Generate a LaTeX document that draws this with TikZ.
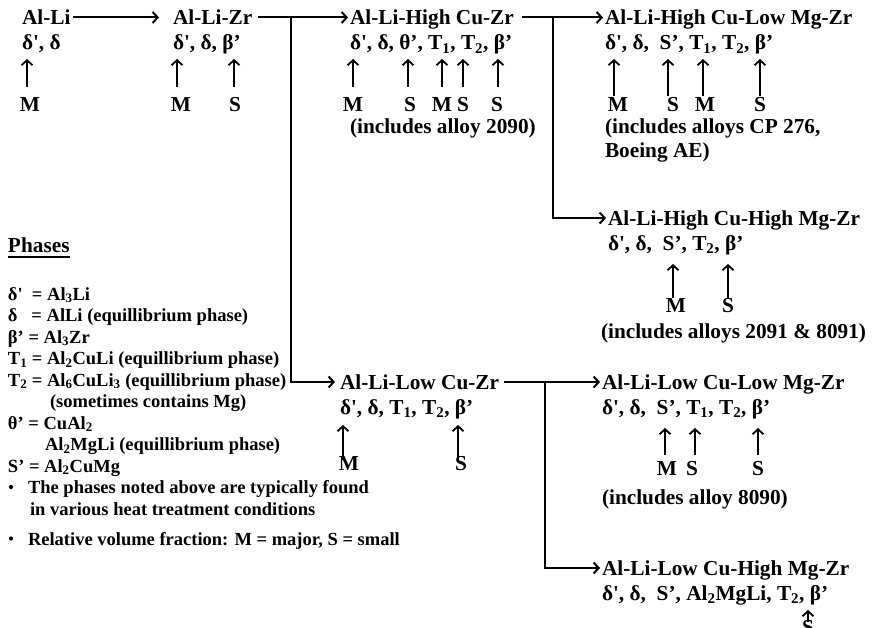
\documentclass[tikz,border=0pt]{standalone}
\usepackage{fontspec}
\setmainfont{Liberation Serif}[Ligatures=TeXOff]
\usetikzlibrary{arrows.meta}

% abundance marker: label node plus an upward arrow to the phase symbol
% #1 name, #2 label x, #3 label baseline, #4 letter, #5 arrow x offset, #6 gap above label, #7 arrow length
\newcommand\abund[7]{%
  \node[lbl] (#1) at (#2,#3) {#4};
  \draw[uparr] ([xshift=#5pt,yshift=#6pt]#1.north) -- ++(0,-#7);}

\begin{document}
\begin{tikzpicture}[x=1pt,y=-1pt,
  every node/.style={inner sep=0pt, outer sep=0pt, font=\fontsize{21.3}{24}\bfseries\selectfont},
  ttl/.style={anchor=base west, text height=15pt, text depth=0pt},
  phl/.style={anchor=base west},
  lbl/.style={anchor=base, text height=14pt, text depth=0pt},
  leg/.style={anchor=base west, font=\fontsize{18.5}{22}\bfseries\selectfont},
  bul/.style={circle, fill=black, minimum size=4.2pt},
  conn/.style={line width=2pt},
  arr/.style={line width=2pt, -{Straight Barb[length=5pt,width=11pt]}},
  uparr/.style={line width=1.8pt, -{Straight Barb[length=5pt,width=11pt]}},
]
\useasboundingbox (0,0) rectangle (877,628);

% ---- Al-Li
\node[ttl] (alli) at (22,25) {Al-Li};
\node[phl] (alliph) at (22,50) {δ', δ};
\abund{alliM}{30}{112}{M}{-3}{11}{28}

% ---- Al-Li-Zr
\node[ttl] (zr) at (173,25) {Al-Li-Zr};
\node[phl] (zrph) at (173,50) {δ', δ, β’};
\abund{zrM}{181}{112}{M}{-4}{11}{28}
\abund{zrS}{235}{112}{S}{-1}{11}{28}

% ---- Al-Li-High Cu-Zr
\node[ttl] (hcu) at (350,25) {Al-Li-High Cu-Zr};
\node[phl] (hcuph) at (350,50) {δ', δ, θ’, T\textsubscript{1}, T\textsubscript{2}, β’};
\abund{hcuA}{353}{112}{M}{0}{11}{28}
\abund{hcuB}{410}{112}{S}{-2}{11}{28}
\abund{hcuC}{442}{112}{M}{0}{11}{28}
\abund{hcuD}{463}{112}{S}{0}{11}{28}
\abund{hcuE}{497}{112}{S}{1}{11}{28}
\node[phl] (hcuinc) at (350,134) {(includes alloy 2090)};

% ---- Al-Li-High Cu-Low Mg-Zr
\node[ttl] (hclm) at (605,25) {Al-Li-High Cu-Low Mg-Zr};
\node[phl] (hclmph) at (605,50) {δ', δ, \ S’, T\textsubscript{1}, T\textsubscript{2}, β’};
\abund{hclmA}{618}{112}{M}{-4}{2}{37}
\abund{hclmB}{673}{112}{S}{-5}{2}{37}
\abund{hclmC}{705}{112}{M}{-2}{2}{37}
\abund{hclmD}{760}{112}{S}{0}{2}{37}
\node[phl] (hclminc) at (605,134) {(includes alloys CP 276,};
\node[phl] (hclminc2) at (605,158) {Boeing AE)};

% ---- Al-Li-High Cu-High Mg-Zr
\node[ttl] (hchm) at (608,225.5) {Al-Li-High Cu-High Mg-Zr};
\node[phl] (hchmph) at (608,250.5) {δ', δ, \ S’, T\textsubscript{2}, β’};
\abund{hchmA}{676}{312}{M}{-3}{0}{34}
\abund{hchmB}{728}{312}{S}{0}{0}{34}
\node[phl] (hchminc) at (601,338) {(includes alloys 2091 \& 8091)};

% ---- Al-Li-Low Cu-Zr
\node[ttl] (lcu) at (340,389.5) {Al-Li-Low Cu-Zr};
\node[phl] (lcuph) at (340,414.5) {δ', δ, T\textsubscript{1}, T\textsubscript{2}, β’};
\abund{lcuA}{349}{470}{M}{-6}{-4}{35}
\abund{lcuB}{461}{470}{S}{-3}{-4}{35}

% ---- Al-Li-Low Cu-Low Mg-Zr
\node[ttl] (lclm) at (602,389.5) {Al-Li-Low Cu-Low Mg-Zr};
\node[phl] (lclmph) at (602,414.5) {δ', δ, \ S’, T\textsubscript{1}, T\textsubscript{2}, β’};
\abund{lclmA}{667}{475}{M}{-2}{6}{27}
\abund{lclmB}{692}{475}{S}{3}{6}{27}
\abund{lclmC}{758}{475}{S}{0}{6}{27}
\node[phl] (lclminc) at (602,504) {(includes alloy 8090)};

% ---- Al-Li-Low Cu-High Mg-Zr
\node[ttl] (lchm) at (602,575.5) {Al-Li-Low Cu-High Mg-Zr};
\node[phl] (lchmph) at (602,600.5) {δ', δ, \ S’, Al\textsubscript{2}MgLi, T\textsubscript{2}, β’};
\abund{lchmA}{808}{634}{S}{0}{-2}{12}

% ---- connectors
\coordinate (j1) at (291,17.5);
\coordinate (j2) at (553,17.5);
\coordinate (j3) at (545,382);
\draw[arr, shorten <=2pt, shorten >=14pt] (alli.east) -- (zr.west);
\draw[arr, shorten <=6pt, shorten >=2pt] (zr.east) -- (hcu.west);
\draw[arr, shorten >=5pt] (j1) |- (lcu.west);
\draw[arr, shorten <=8pt, shorten >=2pt] (hcu.east) -- (hclm.west);
\draw[arr, shorten >=2pt] (j2) |- (hchm.west);
\draw[arr, shorten <=5pt, shorten >=2pt] (lcu.east) -- (lclm.west);
\draw[arr, shorten >=2pt] (j3) |- (lchm.west);

% ---- legend
\node[anchor=base west] (phhead) at (8,252) {Phases};
\draw[line width=1.6pt] ([yshift=-5pt]phhead.base west) -- ([yshift=-5pt]phhead.base east);
\node[leg] (lg1) at (8,300) {δ'\ \ = Al\textsubscript{3}Li};
\node[leg] (lg2) at (8,321.5) {δ\ \ \ = AlLi (equillibrium phase)};
\node[leg] (lg3) at (8,343) {β’ = Al\textsubscript{3}Zr};
\node[leg] (lg4) at (8,364.5) {T\textsubscript{1} = Al\textsubscript{2}CuLi (equillibrium phase)};
\node[leg] (lg5) at (8,386) {T\textsubscript{2} = Al\textsubscript{6}CuLi\textsubscript{3} (equillibrium phase)};
\node[leg] (lg6) at (50,407.5) {(sometimes contains Mg)};
\node[leg] (lg7) at (8,429) {θ’ = CuAl\textsubscript{2}};
\node[leg] (lg8) at (45,450.5) {Al\textsubscript{2}MgLi (equillibrium phase)};
\node[leg] (lg9) at (8,472) {S’ = Al\textsubscript{2}CuMg};
\node[bul] (b1) at (11,487) {};
\node[leg] (lg10) at (28,493.5) {The phases noted above are typically found};
\node[leg] (lg11) at (30,515) {in various heat treatment conditions};
\node[bul] (b2) at (11,538.5) {};
\node[leg] (lg12) at (28,545) {Relative volume fraction: M = major, S = small};
\end{tikzpicture}
\end{document}
